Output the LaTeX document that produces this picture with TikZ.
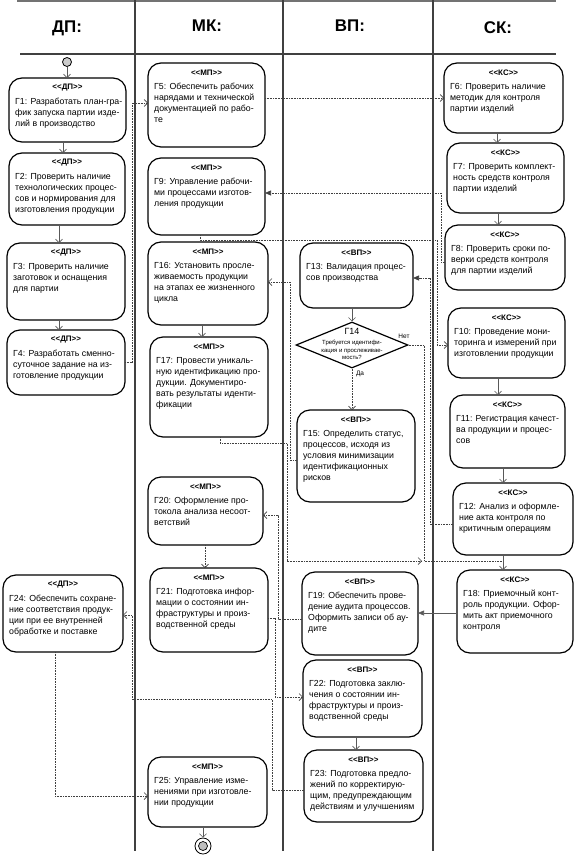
\documentclass[tikz,border=0pt]{standalone}
\usepackage{fontspec}
\setmainfont{Liberation Sans}
\usetikzlibrary{arrows.meta,calc,shapes.geometric}
\tikzset{
 abox/.style={draw=black, line width=1.2bp, rounded corners=13bp, inner sep=0pt, outer sep=0pt},
 stereo/.style={font=\fontsize{8}{9}\selectfont\bfseries, inner sep=0pt},
 body/.style={font=\fontsize{8.8}{11}\selectfont, align=left, inner sep=0pt},
 hdr/.style={font=\fontsize{17}{20}\selectfont\bfseries, inner sep=0pt},
 lane/.style={draw=black!75, line width=1.3bp},
 flowd/.style={draw=black!75, line width=0.7bp, dash pattern=on 0.8bp off 0.8bp},
 flows/.style={draw=black!65, line width=0.6bp},
 oarr/.style={-{Straight Barb[length=3.5bp,width=7bp]}},
 farr/.style={-{Triangle[length=6bp,width=5bp]}},
}
\newcommand\stt[1]{<\kern0pt<#1>\kern0pt>}
\newcommand\actbox[7]{%
 \node[abox, minimum width={(#4-#2)*1bp}, minimum height={(#5-#3)*1bp}] (#1) at ({(#2+#4)/2},{(#3+#5)/2}) {};
 \node[stereo] (#1s) at ($(#1.north)+(0,9.5)$) {\stt{#6}};
 \node[body, anchor=north west] (#1t) at ($(#1.north west)+(6,20)$) {#7};
}
\begin{document}
\begin{tikzpicture}[x=1bp,y=-1bp]
\useasboundingbox (0,0) rectangle (574,857);
% swimlanes
\draw[draw=black!55, line width=2bp] (17,1) -- (556,1);
\draw[lane] (20,54) -- (556,54);
\draw[lane] (135,0) -- (135,851);
\draw[lane] (283,0) -- (283,851);
\draw[lane] (433,0) -- (433,851);
\node[hdr] (h1) at (67,28) {ДП:};
\node[hdr] (h2) at (207,26) {МК:};
\node[hdr] (h3) at (350,26) {ВП:};
\node[hdr] (h4) at (498,28) {СК:};
% start / end
\node[circle, draw, fill=black!20, minimum size=9bp, inner sep=0pt, line width=0.8bp] (start) at (67,62) {};
\node[circle, draw, minimum size=16bp, inner sep=0pt, line width=0.8bp] (end) at (203,846) {};
\node[circle, draw, fill=black!25, minimum size=9bp, inner sep=0pt, line width=0.7bp] (endin) at (203,846) {};
% DP
\actbox{g1}{9}{78}{126}{142}{ДП}{Г1: Разработать план-гра-\\фик запуска партии изде-\\лий в производство}
\actbox{g2}{9}{153}{125}{225}{ДП}{Г2: Проверить наличие\\технологических процес-\\сов и нормирования для\\изготовления продукции}
\actbox{g3}{7}{243}{125}{320}{ДП}{Г3: Проверить наличие\\заготовок и оснащения\\для партии}
\actbox{g4}{7}{330}{125}{395}{ДП}{Г4: Разработать сменно-\\суточное задание на из-\\готовление продукции}
\actbox{g24}{3}{575}{123}{652}{ДП}{Г24: Обеспечить сохране-\\ние соответствия продук-\\ции при ее внутренней\\обработке и поставке}
% MK
\actbox{g5}{148}{63}{265}{147}{МП}{Г5: Обеспечить рабочих\\нарядами и технической\\документацией по рабо-\\те}
\actbox{g9}{148}{158}{265}{235}{МП}{Г9: Управление рабочи-\\ми процессами изготов-\\ления продукции}
\actbox{g16}{148}{242}{268}{325}{МП}{Г16: Установить просле-\\живаемость продукции\\на этапах ее жизненного\\цикла}
\actbox{g17}{150}{337}{268}{437}{МП}{Г17: Провести уникаль-\\ную идентификацию про-\\дукции.  Документиро-\\вать результаты иденти-\\фикации}
\actbox{g20}{148}{477}{263}{545}{МП}{Г20: Оформление про-\\токола анализа несоот-\\ветствий}
\actbox{g21}{150}{568}{268}{652}{МП}{Г21: Подготовка инфор-\\мации о состоянии ин-\\фраструктуры и произ-\\водственной среды}
\actbox{g25}{148}{757}{267}{827}{МП}{Г25: Управление изме-\\нениями при изготовле-\\нии продукции}
% VP
\actbox{g13}{300}{243}{413}{308}{ВП}{Г13: Валидация процес-\\сов производства}
\node[diamond, draw=black, line width=1.2bp, minimum width=112bp, minimum height=46bp, inner sep=0pt] (g14) at (352,345) {};
\node[font=\fontsize{9}{10}\selectfont, inner sep=0pt] (g14a) at (352,331) {Г14};
\node[font=\fontsize{6}{7.4}\selectfont, align=center, inner sep=0pt] (g14b) at (352,350) {Требуется идентифи-\\кация и прослеживае-\\мость?};
\node[font=\fontsize{6.5}{8}\selectfont, inner sep=0pt] (net) at (404,336) {Нет};
\node[font=\fontsize{6.5}{8}\selectfont, inner sep=0pt] (da) at (360,374) {Да};
\actbox{g15}{297}{410}{415}{502}{ВП}{Г15: Определить статус,\\процессов, исходя из\\условия минимизации\\идентификационных\\рисков}
\actbox{g19}{302}{572}{418}{655}{ВП}{Г19: Обеспечить прове-\\дение аудита процессов.\\Оформить записи об ау-\\дите}
\actbox{g22}{303}{660}{422}{737}{ВП}{Г22: Подготовка заклю-\\чения о состоянии ин-\\фраструктуры и произ-\\водственной среды}
\actbox{g23}{304}{750}{423}{822}{ВП}{Г23: Подготовка предло-\\жений по корректирую-\\щим, предупреждающим\\действиям и улучшениям}
% SK
\actbox{g6}{444}{63}{563}{133}{КС}{Г6: Проверить наличие\\методик  для  контроля\\партии изделий}
\actbox{g7}{447}{143}{564}{213}{КС}{Г7: Проверить комплект-\\ность средств контроля\\партии изделий}
\actbox{g8}{445}{225}{565}{290}{КС}{Г8: Проверить сроки по-\\верки средств контроля\\для партии изделий}
\actbox{g10}{448}{308}{565}{378}{КС}{Г10: Проведение мони-\\торинга и измерений при\\изготовлении продукции}
\actbox{g11}{450}{395}{565}{468}{КС}{Г11: Регистрация качест-\\ва продукции и процес-\\сов}
\actbox{g12}{453}{483}{573}{555}{КС}{Г12: Анализ и оформле-\\ние  акта контроля по\\критичным операциям}
\actbox{g18}{457}{570}{573}{653}{КС}{Г18: Приемочный конт-\\роль продукции. Офор-\\мить акт приемочного\\контроля}
% solid arrows
\draw[flows,oarr] (start) -- (start |- g1.north);
\draw[flows,oarr] (63,142) -- (63,153);
\draw[flows,oarr] (59,225) -- (59,243);
\draw[flows,oarr] (59,320) -- (59,330);
\draw[flows,oarr] (497,133) -- (497,143);
\draw[flows,oarr] (498,213) -- (498,225);
\draw[flows,oarr] (498,378) -- (498,395);
\draw[flows,oarr] (503,468) -- (503,483);
\draw[flows,oarr] (503,555) -- (503,570);
\draw[flows,oarr] (202,325) -- (202,337);
\draw[flows,oarr] (g13.south -| g14.north) -- (g14.north);
\draw[flows,oarr] (356,737) -- (356,750);
\draw[flows,oarr] (203,827) -- (end.north);
\draw[flows,farr] (g18.west |- 0,613) -- (g19.east |- 0,613);
% dotted connectors
\draw[flowd,oarr] (g4.east) -- (132,362.5) -- (132,103) -- (g5.west |- 0,103);
\draw[flowd,oarr] (g5.east |- 0,98) -- (g6.west |- 0,98);
\draw[flowd,farr] (g8.west |- 0,262) -- (441,262) -- (441,193) -- (g9.east |- 0,193);
\draw[flowd,oarr] (200,235) -- (200,240) -- (437,240) -- (437,345) -- (g10.west |- 0,345);
\draw[flowd,farr] (g12.west |- 0,524) -- (430,524) -- (430,278) -- (g13.east |- 0,278);
\draw[flowd,oarr] (g14.south) -- (g14.south |- g15.north);
\draw[flowd] (g14.east) -- (424,345) -- (424,561) -- (503,561);
\draw[flowd,oarr] (g15.west |- 0,460) -- (290,460) -- (290,282) -- (g16.east |- 0,282);
\draw[flowd,oarr] (220,437) -- (220,443) -- (287,443) -- (287,561) -- (422,561);
\draw[flowd,oarr] (g19.west |- 0,619) -- (278,619) -- (278,515) -- (g20.east |- 0,515);
\draw[flowd,oarr] (205,545) -- (205,568);
\draw[flowd,oarr] (g21.east |- 0,618) -- (275,618) -- (275,697) -- (g22.west |- 0,697);
\draw[flowd,oarr] (g23.west |- 0,790) -- (272,790) -- (272,699) -- (132,699) -- (132,615) -- (g24.east |- 0,615);
\draw[flowd,oarr] (55,652) -- (55,796) -- (g25.west |- 0,796);
\end{tikzpicture}
\end{document}
